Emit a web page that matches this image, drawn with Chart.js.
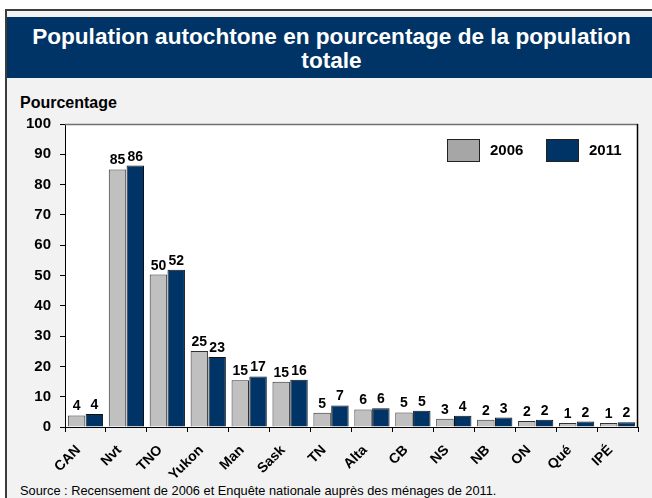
<!DOCTYPE html>
<html>
<head>
<meta charset="utf-8">
<script src="https://cdn.jsdelivr.net/npm/chart.js@4.4.1/dist/chart.umd.min.js"></script>
<style>
  html, body { margin: 0; padding: 0; background: #ffffff; }
  body { width: 652px; height: 498px; position: relative; overflow: hidden; font-family: "Liberation Sans", Arial, sans-serif; }
  #frame { position: absolute; left: 5px; top: 9px; width: 660px; height: 520px; border: 2px solid #3c3c3c; background: #f2f2f2; box-sizing: border-box; }
  #band { position: absolute; left: 7px; top: 17px; width: 645px; height: 61px; background: #003366; }
  #title { position: absolute; left: 9px; top: 25px; width: 645px; text-align: center; color: #ffffff; font-weight: bold; font-size: 22.6px; line-height: 24px; }
  #ylab { position: absolute; left: 20px; top: 94px; font-weight: bold; font-size: 16px; color: #000; }
  #source { position: absolute; left: 20px; top: 483px; font-size: 12.8px; color: #000; white-space: nowrap; }
  #c { position: absolute; left: 0; top: 0; }
</style>
</head>
<body>
<div id="frame"></div>
<div id="band"></div>
<div id="title">Population autochtone en pourcentage de la population<br>totale</div>
<div id="ylab">Pourcentage</div>
<div id="source">Source : Recensement de 2006 et Enquête nationale auprès des ménages de 2011.</div>
<canvas id="c" width="652" height="498"></canvas>
<script>
const categories = ["CAN", "Nvt", "TNO", "Yukon", "Man", "Sask", "TN", "Alta", "CB", "NS", "NB", "ON", "Qué", "IPÉ"];
const values2006 = [3.8, 85.0, 50.3, 25.1, 15.4, 14.9, 4.7, 5.8, 4.8, 2.7, 2.4, 2.0, 1.3, 1.3];
const values2011 = [4.3, 86.3, 51.9, 23.1, 16.7, 15.6, 7.1, 6.2, 5.4, 3.7, 3.1, 2.4, 1.8, 1.6];
const seriesNames = ["2006", "2011"];
const yTicks = [0, 10, 20, 30, 40, 50, 60, 70, 80, 90, 100];

const plotBg = {
  id: 'plotBg',
  beforeDraw(chart) {
    const a = chart.chartArea, ctx = chart.ctx;
    ctx.save();
    ctx.fillStyle = '#ffffff';
    ctx.fillRect(a.left, a.top, a.right - a.left, a.bottom - a.top);
    ctx.restore();
  },
  afterDraw(chart) {
    const a = chart.chartArea, ctx = chart.ctx;
    ctx.save();
    ctx.lineWidth = 1.5;
    ctx.strokeStyle = '#707070';
    ctx.beginPath(); ctx.moveTo(a.left, a.top + 0.5); ctx.lineTo(a.right, a.top + 0.5); ctx.stroke();
    ctx.strokeStyle = '#000000';
    ctx.beginPath(); ctx.moveTo(a.right - 0.5, a.top); ctx.lineTo(a.right - 0.5, a.bottom); ctx.stroke();
    ctx.restore();
  }
};

const dataLabels = {
  id: 'dataLabels',
  afterDatasetsDraw(chart) {
    const ctx = chart.ctx;
    ctx.save();
    ctx.font = 'bold 14px "Liberation Sans", Arial, sans-serif';
    ctx.fillStyle = '#000';
    ctx.textAlign = 'center';
    ctx.textBaseline = 'alphabetic';
    chart.data.datasets.forEach((ds, i) => {
      chart.getDatasetMeta(i).data.forEach((bar, j) => {
        ctx.fillText(String(Math.round(ds.data[j])), bar.x, bar.y - 5);
      });
    });
    ctx.restore();
  }
};

const innerLegend = {
  id: 'innerLegend',
  afterDraw(chart) {
    const a = chart.chartArea, ctx = chart.ctx;
    ctx.save();
    ctx.font = 'bold 15px "Liberation Sans", Arial, sans-serif';
    ctx.textBaseline = 'middle';
    ctx.textAlign = 'left';
    let x = a.right - 191;
    const y = a.top + 15;
    chart.data.datasets.forEach((ds) => {
      ctx.fillStyle = ds.legendColor;
      ctx.fillRect(x, y, 33, 23);
      ctx.strokeStyle = '#222';
      ctx.lineWidth = 1;
      ctx.strokeRect(x + 0.5, y + 0.5, 32, 22);
      ctx.fillStyle = '#000';
      ctx.fillText(ds.label, x + 43, y + 12);
      x += 99;
    });
    ctx.restore();
  }
};

new Chart(document.getElementById('c'), {
  type: 'bar',
  data: {
    labels: categories,
    datasets: [
      { label: seriesNames[0], data: values2006, backgroundColor: '#c0c0c0', legendColor: '#a6a6a6', borderColor: '#303030', borderWidth: 1, categoryPercentage: 0.87, barPercentage: 0.98 },
      { label: seriesNames[1], data: values2011, backgroundColor: '#003366', legendColor: '#003366', borderColor: '#101010', borderWidth: 1, categoryPercentage: 0.87, barPercentage: 0.98 }
    ]
  },
  options: {
    responsive: false,
    animation: false,
    events: [],
    layout: { padding: { top: 124, right: 14, left: 0, bottom: 0 } },
    plugins: { legend: { display: false }, title: { display: false }, tooltip: { enabled: false } },
    scales: {
      x: {
        afterFit(scale) { scale.height = 71; },
        grid: { display: true, drawOnChartArea: false, drawTicks: true, tickLength: 5, color: '#000', offset: true },
        border: { display: true, color: '#000', width: 1 },
        ticks: {
          color: '#000', font: { family: '"Liberation Sans", Arial, sans-serif', size: 14, weight: 'bold' },
          minRotation: 45, maxRotation: 45, padding: 10, labelOffset: -7, autoSkip: false
        }
      },
      y: {
        min: 0, max: 100,
        afterFit(scale) { scale.width = 65; },
        afterBuildTicks(scale) { scale.ticks = yTicks.map(v => ({ value: v })); },
        grid: { display: true, drawOnChartArea: false, drawTicks: true, tickLength: 5, color: '#000' },
        border: { display: true, color: '#000', width: 1 },
        ticks: {
          color: '#000', font: { family: '"Liberation Sans", Arial, sans-serif', size: 15, weight: 'bold' },
          padding: 9
        }
      }
    }
  },
  plugins: [plotBg, dataLabels, innerLegend]
});
</script>
</body>
</html>
